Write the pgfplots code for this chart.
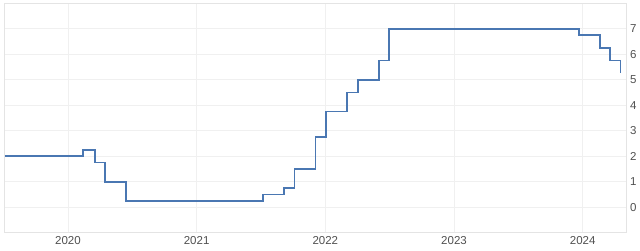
\documentclass[border=0pt]{standalone}
\usepackage{pgfplots}
\pgfplotsset{compat=1.18}
\usepackage{fontspec}
\setmainfont{Liberation Sans}
\definecolor{rateline}{HTML}{4A77B2}
\definecolor{gridc}{HTML}{F0F0F0}
\definecolor{borderc}{HTML}{E4E4E4}
\definecolor{lbl}{HTML}{505050}
\begin{document}
\begin{tikzpicture}
\path[use as bounding box] (-4pt,-17.3pt) rectangle (636pt,232.7pt);
\begin{axis}[
  at={(0pt,0pt)}, anchor=south west,
  scale only axis, width=622.7pt, height=229.4pt,
  xmin=2019.503, xmax=2024.342, ymin=-1, ymax=8,
  xtick={2020,2021,2022,2023,2024},
  ytick={0,1,2,3,4,5,6,7},
  extra y ticks={-1,8}, extra y tick labels={},
  extra y tick style={grid=none},
  grid=major,
  major grid style={draw=gridc, line width=0.8pt},
  axis line style={draw=borderc, line width=0.8pt},
  major tick length=0pt,
  yticklabel pos=right,
  /pgf/number format/set thousands separator={},
  /pgf/number format/assume math mode=true,
  tick label style={font=\fontsize{11.5}{12}\selectfont, text=lbl, inner sep=0pt},
  xticklabel style={anchor=north},
  yticklabel style={anchor=west},
  xticklabel shift=3.5pt,
  yticklabel shift=3.3pt,
]
\addplot[const plot, draw=rateline, line width=1.6pt] coordinates {
(2019.511,2)
(2020.119,2.25)
(2020.210,1.75)
(2020.290,1.0)
(2020.451,0.25)
(2021.518,0.5)
(2021.679,0.75)
(2021.762,1.5)
(2021.925,2.75)
(2022.005,3.75)
(2022.168,4.5)
(2022.256,5.0)
(2022.415,5.75)
(2022.497,7.0)
(2023.969,6.75)
(2024.134,6.25)
(2024.214,5.75)
(2024.295,5.25)
};
\end{axis}
\end{tikzpicture}
\end{document}
